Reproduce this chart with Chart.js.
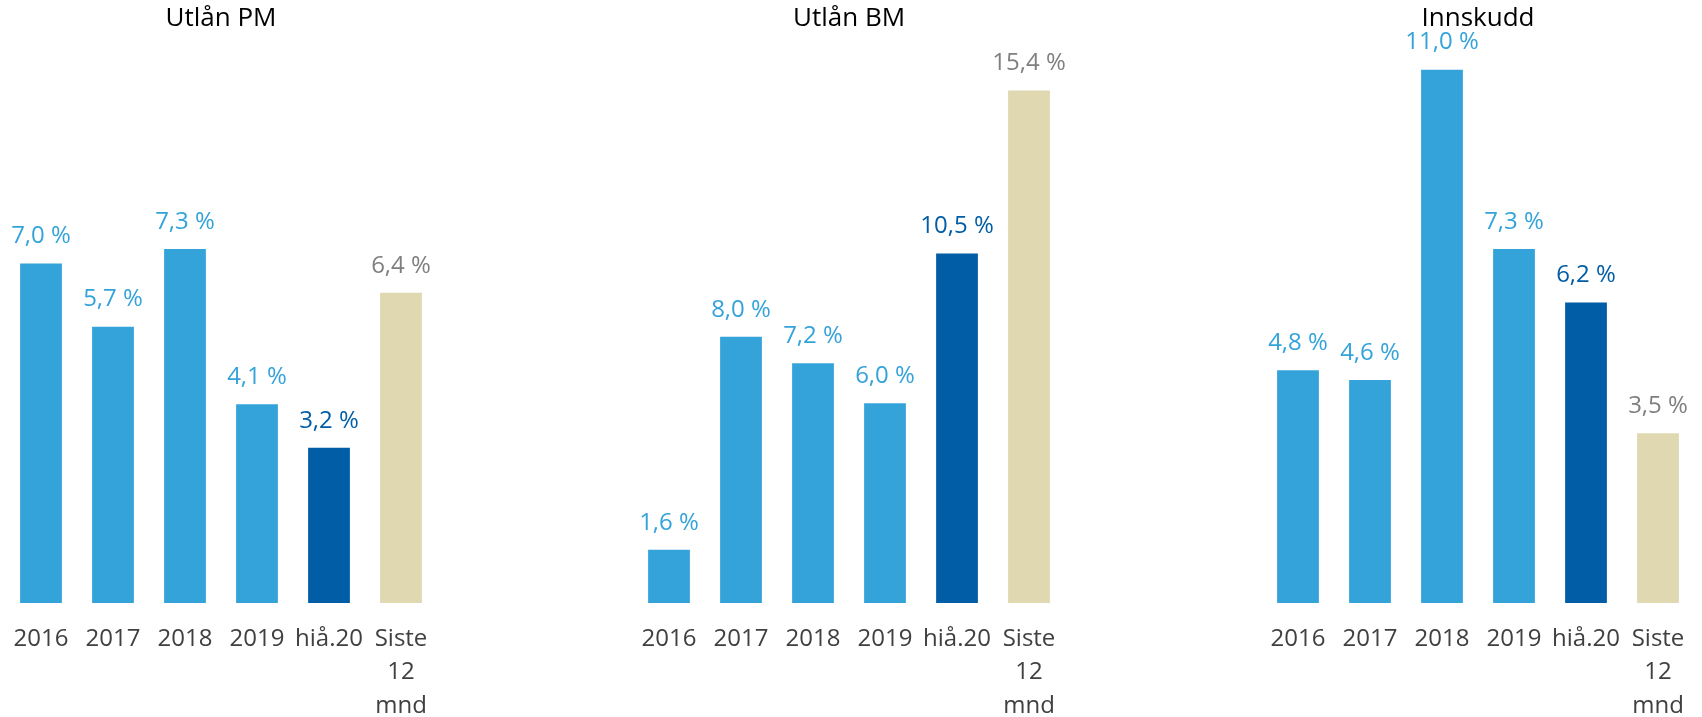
<!DOCTYPE html>
<html>
<head>
<meta charset="utf-8">
<script src="https://cdn.jsdelivr.net/npm/chart.js@4"></script>
<style>
  html, body { margin: 0; padding: 0; background: #ffffff; }
  body { width: 1702px; height: 717px; position: relative; overflow: hidden; }
  .panel { position: absolute; top: 0; width: 432px; height: 717px; }
</style>
</head>
<body>
<div class="panel" style="left:5px"><canvas id="c1"></canvas></div>
<div class="panel" style="left:633px"><canvas id="c2"></canvas></div>
<div class="panel" style="left:1262px"><canvas id="c3"></canvas></div>
<script>
const categories = ['2016', '2017', '2018', '2019', 'hiå.20', ['Siste', '12', 'mnd']];
const titles = ['Utlån PM', 'Utlån BM', 'Innskudd'];
const utlanPM = [7.0, 5.7, 7.3, 4.1, 3.2, 6.4];
const utlanBM = [1.6, 8.0, 7.2, 6.0, 10.5, 15.4];
const innskudd = [4.8, 4.6, 11.0, 7.3, 6.2, 3.5];
const yMax = [11.69, 17.03, 11.69];

const barColors = ['#34A3DA', '#34A3DA', '#34A3DA', '#34A3DA', '#005DA6', '#E0D8B0'];
const labelColors = ['#34A3DA', '#34A3DA', '#34A3DA', '#34A3DA', '#005DA6', '#7F7F7F'];
const FONT = "'Open Sans', 'Noto Sans', sans-serif";

const valueLabels = {
  id: 'valueLabels',
  afterDatasetsDraw(chart) {
    const ctx = chart.ctx;
    const meta = chart.getDatasetMeta(0);
    const data = chart.data.datasets[0].data;
    ctx.save();
    ctx.font = '24px ' + FONT;
    ctx.textAlign = 'center';
    ctx.textBaseline = 'middle';
    meta.data.forEach((bar, i) => {
      ctx.fillStyle = labelColors[i];
      ctx.fillText(data[i].toFixed(1).replace('.', ',') + ' %', bar.x, bar.y - 27);
    });
    ctx.restore();
  }
};

function makeChart(id, values, title, max) {
  return new Chart(document.getElementById(id), {
    type: 'bar',
    data: {
      labels: categories,
      datasets: [{
        data: values,
        backgroundColor: barColors,
        borderWidth: 0,
        barPercentage: 0.58,
        categoryPercentage: 1.0
      }]
    },
    options: {
      responsive: true,
      maintainAspectRatio: false,
      animation: false,
      devicePixelRatio: 1,
      layout: { padding: 0 },
      plugins: {
        legend: { display: false },
        tooltip: { enabled: false },
        title: {
          display: true,
          text: title,
          color: '#000000',
          font: { family: FONT, size: 26, weight: 'normal', lineHeight: 1.2 },
          padding: { top: 3, bottom: 2 }
        }
      },
      scales: {
        x: {
          grid: { display: false },
          border: { display: false },
          ticks: {
            color: '#404040',
            font: { family: FONT, size: 24, lineHeight: 1.4 },
            padding: 11,
            maxRotation: 0,
            autoSkip: false
          },
          afterFit(axis) {
            axis.height = 114;
            axis.paddingLeft = 0;
            axis.paddingRight = 0;
          }
        },
        y: {
          display: false,
          min: 0,
          max: max
        }
      }
    },
    plugins: [valueLabels]
  });
}

makeChart('c1', utlanPM, titles[0], yMax[0]);
makeChart('c2', utlanBM, titles[1], yMax[1]);
makeChart('c3', innskudd, titles[2], yMax[2]);
</script>
</body>
</html>
